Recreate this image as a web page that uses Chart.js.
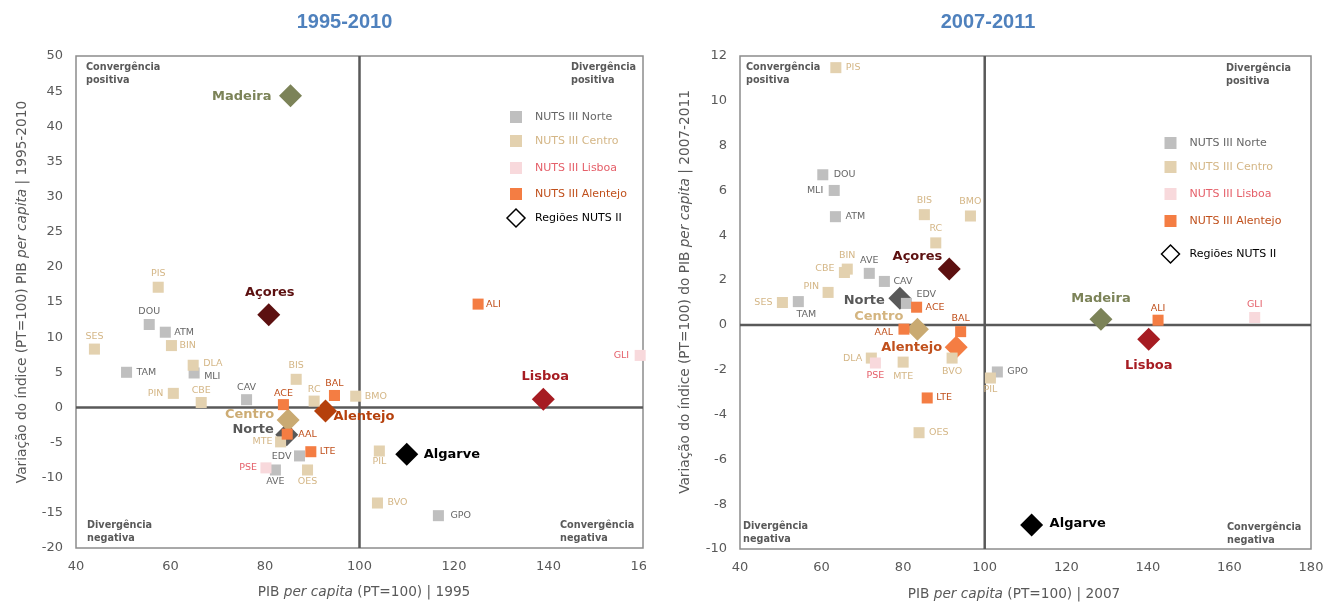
<!DOCTYPE html>
<html>
<head>
<meta charset="utf-8">
<script src="https://cdn.jsdelivr.net/npm/chart.js@4.4.1/dist/chart.umd.min.js"></script>
<style>
  body { margin: 0; background: #fff; width: 1341px; height: 604px; overflow: hidden; position: relative; }
  #caixaA { position: absolute; left: 0; top: 0; width: 646px; height: 604px; overflow: hidden; }
  #caixaB { position: absolute; left: 660px; top: 0; width: 681px; height: 604px; }
</style>
</head>
<body>
<div id="caixaA"><canvas id="graficoA" width="700" height="604" style="width:700px;height:604px"></canvas></div>
<div id="caixaB"><canvas id="graficoB" width="681" height="604" style="width:681px;height:604px"></canvas></div>
<script>
  // ---- Dados 1995-2010 ----
  const norteCod_A = ['DOU', 'ATM', 'TAM', 'MLI', 'CAV', 'EDV', 'AVE', 'GPO'];
  const norteX_A = [55.5, 58.9, 50.7, 65.0, 76.1, 87.3, 82.2, 116.7];
  const norteY_A = [11.8, 10.7, 5.0, 4.9, 1.1, -6.9, -8.9, -15.4];

  const centroCod_A = ['PIS', 'SES', 'BIN', 'DLA', 'PIN', 'CBE', 'BIS', 'RC', 'BMO', 'MTE', 'OES', 'PIL', 'BVO'];
  const centroX_A = [57.4, 43.9, 60.2, 64.8, 60.6, 66.5, 86.6, 90.4, 99.2, 83.3, 89.0, 104.2, 103.8];
  const centroY_A = [17.1, 8.3, 8.8, 6.0, 2.0, 0.7, 4.0, 0.9, 1.6, -4.9, -8.9, -6.2, -13.6];

  const lisboaCod_A = ['PSE', 'GLI'];
  const lisboaX_A = [80.2, 159.4];
  const lisboaY_A = [-8.6, 7.4];

  const alentejoCod_A = ['ACE', 'BAL', 'AAL', 'LTE', 'ALI'];
  const alentejoX_A = [83.9, 94.7, 84.7, 89.7, 125.1];
  const alentejoY_A = [0.4, 1.7, -3.8, -6.3, 14.7];

  // ---- Dados 2007-2011 ----
  const norteCod_B = ['DOU', 'MLI', 'ATM', 'AVE', 'CAV', 'TAM', 'EDV', 'GPO'];
  const norteX_B = [60.3, 63.1, 63.4, 71.7, 75.4, 54.3, 80.8, 103.1];
  const norteY_B = [6.7, 6.0, 4.83, 2.3, 1.94, 1.04, 0.96, -2.1];

  const centroCod_B = ['PIS', 'BIS', 'BMO', 'RC', 'BIN', 'CBE', 'PIN', 'SES', 'DLA', 'MTE', 'BVO', 'PIL', 'OES'];
  const centroX_B = [63.5, 85.2, 96.5, 88.0, 66.3, 65.6, 61.6, 50.4, 72.2, 80.0, 92.0, 101.4, 83.9];
  const centroY_B = [11.48, 4.92, 4.86, 3.66, 2.49, 2.34, 1.45, 1.0, -1.48, -1.66, -1.48, -2.37, -4.81];

  const lisboaCod_B = ['PSE', 'GLI'];
  const lisboaX_B = [73.2, 166.2];
  const lisboaY_B = [-1.7, 0.33];

  const alentejoCod_B = ['ACE', 'AAL', 'BAL', 'LTE', 'ALI'];
  const alentejoX_B = [83.3, 80.2, 94.1, 85.9, 142.5];
  const alentejoY_B = [0.79, -0.19, -0.3, -3.26, 0.21];

  // ---- Regiões NUTS II ----
  const regioes = ['Norte', 'Centro', 'Lisboa', 'Alentejo', 'Algarve', 'Açores', 'Madeira'];
  const regX_A = [84.6, 84.9, 138.9, 92.8, 110.0, 80.8, 85.4];
  const regY_A = [-3.9, -1.8, 1.17, -0.5, -6.66, 13.2, 44.35];
  const regX_B = [79.2, 83.5, 140.2, 93.0, 111.5, 91.3, 128.5];
  const regY_B = [1.19, -0.19, -0.64, -1.0, -8.93, 2.49, 0.25];

  // ---- Eixos ----
  const xTicks_A = [40, 60, 80, 100, 120, 140, 160];
  const yTicks_A = [-20, -15, -10, -5, 0, 5, 10, 15, 20, 25, 30, 35, 40, 45, 50];
  const xTicks_B = [40, 60, 80, 100, 120, 140, 160, 180];
  const yTicks_B = [-10, -8, -6, -4, -2, 0, 2, 4, 6, 8, 10, 12];

  const legendaTxt = ['NUTS III Norte', 'NUTS III Centro', 'NUTS III Lisboa', 'NUTS III Alentejo', 'Regiões NUTS II'];

  // cores
  const corNorte = '#BFBFBF', corCentro = '#E3D1AF', corLisboa = '#F8D9DC', corAlentejo = '#F47D43';
  const txtNorte = '#666666', txtCentro = '#D4B686', txtLisboa = '#E5606A', txtAlentejo = '#C0501C';
  const cinza = '#595959';
  const FONTE = '"DejaVu Sans", Verdana, sans-serif';

  const pontos = (xs, ys) => xs.map((x, i) => ({ x: x, y: ys[i] }));

  // posições dos rótulos [dx, dy, alinhamento]
  const R = [9, 0, 'left'], L = [-9, 0, 'right'], T = [0, -13, 'center'], B = [0, 13, 'center'];

  const rotulosA = {
    DOU: T, ATM: R, TAM: [10, 0, 'left'], MLI: [10, 4, 'left'], CAV: [0, -12, 'center'], EDV: [-8, 1, 'right'], AVE: [0, 12, 'center'], GPO: [12, 0, 'left'],
    PIS: [0, -14, 'center'], SES: T, BIN: [8, 0, 'left'], DLA: [10, -2, 'left'], PIN: [-10, 0, 'right'], CBE: [0, -12, 'center'],
    BIS: [0, -14, 'center'], RC: [0, -12, 'center'], BMO: R, MTE: [-8, 0, 'right'], OES: [0, 12, 'center'], PIL: [0, 11, 'center'], BVO: [10, 0, 'left'],
    PSE: L, GLI: [-11, 0, 'right'],
    ACE: [0, -11, 'center'], BAL: [0, -12, 'center'], AAL: [11, 0, 'left'], LTE: R, ALI: [8, 0, 'left'],
    Norte: [-13, -5, 'right'], Centro: [-14, -5, 'right'], Lisboa: [2, -23, 'center'], Alentejo: [8, 6, 'left'],
    Algarve: [17, 0, 'left'], 'Açores': [1, -22, 'center'], Madeira: [-19, 1, 'right']
  };
  const rotulosB = {
    DOU: [11, 0, 'left'], MLI: [-11, 0, 'right'], ATM: [10, 0, 'left'], AVE: [0, -13, 'center'], CAV: R, TAM: [8, 13, 'center'], EDV: [10, -9, 'left'], GPO: [10, 0, 'left'],
    PIS: [10, 0, 'left'], BIS: [0, -14, 'center'], BMO: [0, -14, 'center'], RC: [0, -14, 'center'], BIN: [0, -14, 'center'], CBE: [-10, -4, 'right'],
    PIN: [-9, -6, 'right'], SES: [-10, 0, 'right'], DLA: L, MTE: [0, 14, 'center'], BVO: B, PIL: [0, 12, 'center'], OES: [10, 0, 'left'],
    PSE: B, GLI: T,
    ACE: R, AAL: [-11, 3, 'right'], BAL: T, LTE: R, ALI: [0, -12, 'center'],
    Norte: [-15, 2, 'right'], Centro: [-14, -13, 'right'], Lisboa: [0, 26, 'center'], Alentejo: [-14, 0, 'right'],
    Algarve: [18, -1, 'left'], 'Açores': [-7, -12, 'right'], Madeira: [0, -21, 'center']
  };

  // Plugin: moldura e eixos centrais (PT = 100, variação = 0)
  const moldura = {
    id: 'moldura',
    beforeDatasetsDraw(chart) {
      const { ctx, chartArea: a, scales } = chart;
      ctx.save();
      ctx.strokeStyle = '#8C8C8C';
      ctx.lineWidth = 1.5;
      ctx.strokeRect(a.left, a.top, a.right - a.left, a.bottom - a.top);
      ctx.strokeStyle = cinza;
      ctx.lineWidth = 2.5;
      const x100 = scales.x.getPixelForValue(100), y0 = scales.y.getPixelForValue(0);
      ctx.beginPath();
      ctx.moveTo(x100, a.top); ctx.lineTo(x100, a.bottom);
      ctx.moveTo(a.left, y0); ctx.lineTo(a.right, y0);
      ctx.stroke();
      ctx.restore();
    }
  };

  function textoMisto(ctx, partes, x, y, rodar) {
    ctx.save();
    ctx.translate(x, y);
    if (rodar) ctx.rotate(-Math.PI / 2);
    ctx.fillStyle = cinza;
    ctx.textBaseline = 'middle';
    ctx.textAlign = 'left';
    const fontes = partes.map(p => (p[1] ? 'italic ' : '') + '13.7px ' + FONTE);
    let total = 0;
    partes.forEach((p, i) => { ctx.font = fontes[i]; total += ctx.measureText(p[0]).width; });
    let cx = -total / 2;
    partes.forEach((p, i) => { ctx.font = fontes[i]; ctx.fillText(p[0], cx, 0); cx += ctx.measureText(p[0]).width; });
    ctx.restore();
  }

  // Plugin: rótulos, quadrantes, legenda e títulos
  const textos = {
    id: 'textos',
    afterDatasetsDraw(chart, args, o) {
      const ctx = chart.ctx, a = chart.chartArea;
      ctx.save();
      // rótulos dos pontos
      chart.data.datasets.forEach((ds, di) => {
        const meta = chart.getDatasetMeta(di);
        ds.codigos.forEach((c, i) => {
          const p = meta.data[i];
          const pos = o.rotulos[c] || R;
          ctx.font = ds.grande ? 'bold 13px ' + FONTE : '9.5px ' + FONTE;
          ctx.fillStyle = Array.isArray(ds.corTexto) ? ds.corTexto[i] : ds.corTexto;
          ctx.textAlign = pos[2];
          ctx.textBaseline = 'middle';
          ctx.fillText(c, p.x + pos[0], p.y + pos[1]);
        });
      });
      // quadrantes
      ctx.font = 'bold 9.7px ' + FONTE;
      ctx.fillStyle = cinza;
      ctx.textAlign = 'left';
      ctx.textBaseline = 'middle';
      o.quadrantes.forEach(q => {
        const x = q[2] >= 0 ? a.left + q[2] : a.right + q[2];
        const y = q[3] >= 0 ? a.top + q[3] : a.bottom + q[3];
        ctx.fillText(q[0], x, y);
        ctx.fillText(q[1], x, y + 13);
      });
      // legenda
      const lx = a.left + o.legenda.x;
      const cores = [corNorte, corCentro, corLisboa, corAlentejo];
      const coresTxt = [txtNorte, txtCentro, txtLisboa, txtAlentejo, '#000'];
      ctx.font = '11px ' + FONTE;
      legendaTxt.forEach((t, i) => {
        const y = a.top + o.legenda.y[i];
        if (i < 4) {
          ctx.fillStyle = cores[i];
          ctx.fillRect(lx - 6, y - 6, 12, 12);
        } else {
          ctx.strokeStyle = '#000';
          ctx.lineWidth = 1.5;
          ctx.beginPath();
          ctx.moveTo(lx - 9, y); ctx.lineTo(lx, y - 9); ctx.lineTo(lx + 9, y); ctx.lineTo(lx, y + 9);
          ctx.closePath();
          ctx.stroke();
        }
        ctx.fillStyle = coresTxt[i];
        ctx.fillText(t, lx + 19, y);
      });
      // título
      ctx.font = 'bold 20px "Liberation Sans", Arial, sans-serif';
      ctx.fillStyle = '#4F81BD';
      ctx.textAlign = 'center';
      ctx.fillText(o.titulo[0], o.titulo[1], o.titulo[2]);
      ctx.restore();
      // títulos dos eixos
      textoMisto(ctx, o.tituloX[0], o.tituloX[1], o.tituloX[2], false);
      textoMisto(ctx, o.tituloY[0], o.tituloY[1], o.tituloY[2], true);
    }
  };

  function criarGrafico(id, ds, xTicks, yTicks, larguraY, alturaX, padRight, extra) {
    const eixo = (ticks, lado) => ({
      type: 'linear',
      min: ticks[0],
      max: ticks[ticks.length - 1],
      afterBuildTicks: s => { s.ticks = ticks.map(v => ({ value: v })); },
      afterFit: s => { if (lado === 'y') s.width = larguraY; else s.height = alturaX; },
      grid: { display: false, drawTicks: false },
      border: { display: false },
      ticks: { color: cinza, padding: lado === 'y' ? 13 : 11, font: { family: '"DejaVu Sans"', size: 13 } }
    });
    return new Chart(document.getElementById(id).getContext('2d'), {
      type: 'scatter',
      data: { datasets: ds },
      options: {
        responsive: false,
        animation: false,
        layout: { padding: { top: 56, right: padRight, bottom: 0, left: 0 } },
        scales: { x: eixo(xTicks, 'x'), y: eixo(yTicks, 'y') },
        plugins: { legend: { display: false }, tooltip: { enabled: false }, textos: extra }
      },
      plugins: [moldura, textos]
    });
  }

  function conjuntos(n, c, l, a, reg, coresReg, txtReg) {
    const quadrado = (cod, d, cor, corT) => ({
      data: d, codigos: cod, corTexto: corT, backgroundColor: cor, borderWidth: 0,
      pointStyle: 'rect', pointRadius: 7.8, clip: false
    });
    return [
      quadrado(a[0], pontos(a[1], a[2]), corAlentejo, txtAlentejo),
      quadrado(l[0], pontos(l[1], l[2]), corLisboa, txtLisboa),
      quadrado(c[0], pontos(c[1], c[2]), corCentro, txtCentro),
      quadrado(n[0], pontos(n[1], n[2]), corNorte, txtNorte),
      {
        data: pontos(reg[0], reg[1]), codigos: regioes, corTexto: txtReg, grande: true,
        backgroundColor: coresReg, borderWidth: 0, pointStyle: 'rectRot', pointRadius: 11.5, clip: false
      }
    ];
  }

  // Gráfico 1995-2010
  criarGrafico('graficoA',
    conjuntos([norteCod_A, norteX_A, norteY_A], [centroCod_A, centroX_A, centroY_A], [lisboaCod_A, lisboaX_A, lisboaY_A],
      [alentejoCod_A, alentejoX_A, alentejoY_A], [regX_A, regY_A],
      ['#595959', '#C9AA72', '#A61C22', '#B5400C', '#000000', '#5C1010', '#7C8358'],
      ['#595959', '#CDAC74', '#A61C22', '#B5400C', '#000000', '#5C1010', '#7C8358']),
    xTicks_A, yTicks_A, 76, 56, 57,
    {
      rotulos: rotulosA,
      quadrantes: [['Convergência', 'positiva', 10, 11], ['Divergência', 'positiva', -72, 11],
        ['Divergência', 'negativa', 11, -23], ['Convergência', 'negativa', -83, -23]],
      legenda: { x: 440, y: [61, 85, 112, 138, 162] },
      titulo: ['1995-2010', 344.5, 22],
      tituloX: [[['PIB ', false], ['per capita', true], [' (PT=100) | 1995', false]], 364, 592],
      tituloY: [[['Variação do índice (PT=100) PIB ', false], ['per capita', true], [' | 1995-2010', false]], 22, 292]
    });

  // Gráfico 2007-2011
  criarGrafico('graficoB',
    conjuntos([norteCod_B, norteX_B, norteY_B], [centroCod_B, centroX_B, centroY_B], [lisboaCod_B, lisboaX_B, lisboaY_B],
      [alentejoCod_B, alentejoX_B, alentejoY_B], [regX_B, regY_B],
      ['#595959', '#C9AA72', '#A61C22', '#F47D43', '#000000', '#5C1010', '#7C8358'],
      ['#595959', '#D4B580', '#A61C22', '#C0501C', '#000000', '#5C1010', '#7C8358']),
    xTicks_B, yTicks_B, 80, 55, 30,
    {
      rotulos: rotulosB,
      quadrantes: [['Convergência', 'positiva', 6, 11], ['Divergência', 'positiva', -85, 12],
        ['Divergência', 'negativa', 3, -23], ['Convergência', 'negativa', -84, -22]],
      legenda: { x: 430.5, y: [87, 111, 138, 165, 198] },
      titulo: ['2007-2011', 328, 22],
      tituloX: [[['PIB ', false], ['per capita', true], [' (PT=100) | 2007', false]], 354, 594],
      tituloY: [[['Variação do índice (PT=100) do PIB ', false], ['per capita', true], [' | 2007-2011', false]], 25, 292]
    });
</script>
</body>
</html>
